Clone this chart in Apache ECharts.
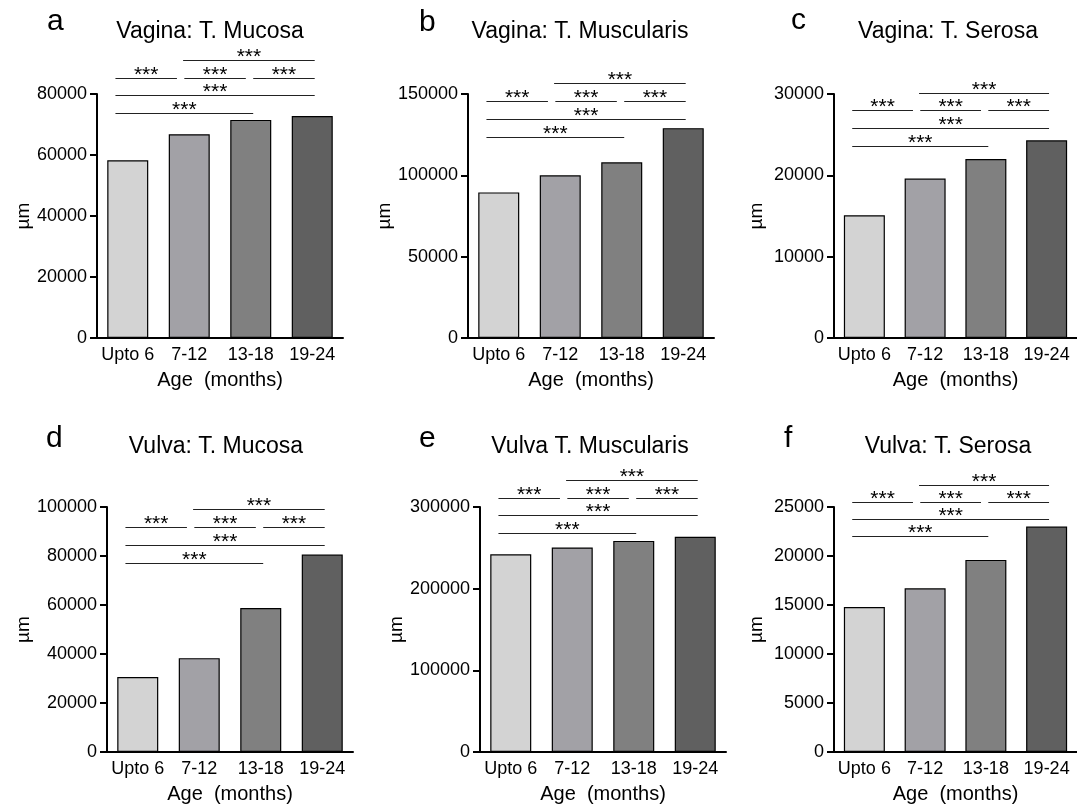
<!DOCTYPE html>
<html>
<head>
<meta charset="utf-8">
<script src="https://cdn.jsdelivr.net/npm/echarts@6/dist/echarts.min.js"></script>
<style>
html,body{margin:0;padding:0;background:#fff}
#chart{width:1077px;height:810px}
</style>
</head>
<body>
<div id="chart"></div>
<script>
// ---------- data ----------
const categories = ['Upto 6', '7-12', '13-18', '19-24'];
const panelLetters = ['a', 'b', 'c', 'd', 'e', 'f'];
const panelTitles = ['Vagina: T. Mucosa', 'Vagina: T. Muscularis', 'Vagina: T. Serosa',
                     'Vulva: T. Mucosa', 'Vulva T. Muscularis', 'Vulva: T. Serosa'];
const vaginaMucosa     = [58300, 66800, 71500, 72800];
const vaginaMuscularis = [89500, 100000, 108000, 129000];
const vaginaSerosa     = [15100, 19600, 22000, 24300];
const vulvaMucosa      = [30600, 38300, 58800, 80600];
const vulvaMuscularis  = [242000, 250500, 258500, 263500];
const vulvaSerosa      = [14800, 16700, 19600, 23000];
const yMax      = [80000, 150000, 30000, 100000, 300000, 25000];
const yInterval = [20000, 50000, 10000, 20000, 100000, 5000];
const yAxisTitle = 'µm';
const xAxisTitle = 'Age  (months)';
// pairwise comparisons (category index pairs) and the stacking row of each bracket
const comparisons   = [[0, 2], [0, 3], [0, 1], [1, 2], [2, 3], [1, 3]];
const comparisonRow = [0, 1, 2, 2, 2, 3];
const significance  = ['***', '***', '***', '***', '***', '***'];
// value level of the lowest bracket row and the value spacing between rows, per panel
const bracketBase = [73700, 123800, 23600, 77300, 268000, 22000];
const bracketStep = [5830, 11030, 2190, 7300, 21800, 1765];

const panelValues = [vaginaMucosa, vaginaMuscularis, vaginaSerosa, vulvaMucosa, vulvaMuscularis, vulvaSerosa];

// ---------- style / layout ----------
const FONT = '"Liberation Sans", Arial, Helvetica, sans-serif';
const barColors = ['#d3d3d3', '#a2a1a6', '#808080', '#606060'];
const grids = [
  {left: 97,  top: 94,  width: 246, height: 244},
  {left: 468, top: 94,  width: 246, height: 244},
  {left: 834, top: 94,  width: 246, height: 244},
  {left: 107, top: 507, width: 246, height: 245},
  {left: 480, top: 507, width: 246, height: 245},
  {left: 834, top: 507, width: 246, height: 245}
];
const yNameGap = [64, 70, 68, 74, 74, 68];
const titlePos  = [[210, 32], [580, 32], [948, 32], [216, 447], [590, 447], [948, 447]];
const letterPos = [[47, 22], [419, 23], [791, 21], [46, 439], [419, 439], [784, 439]];

// bracket horizontal extents in category units
function bracketSpans() {
  return comparisons.map((c, j) => {
    const row = comparisonRow[j];
    const mates = comparisons.map((d, m) => m).filter(m => comparisonRow[m] === row);
    if (mates.length === 1) return [c[0] - (c[0] === 0 ? 0.2 : 0.1), c[1] + 0.04];
    const L = Math.min(...mates.map(m => comparisons[m][0])) - 0.2;
    const R = Math.max(...mates.map(m => comparisons[m][1])) + 0.04;
    const gap = 0.12, n = mates.length, w = (R - L - gap * (n - 1)) / n, k = mates.indexOf(j);
    return [L + k * (w + gap), L + k * (w + gap) + w];
  });
}
const spans = bracketSpans();

const option = {
  backgroundColor: '#fff',
  animation: false,
  grid: grids.map(g => Object.assign({containLabel: false}, g)),
  xAxis: grids.map((g, k) => ({
    type: 'category', gridIndex: k, data: categories,
    axisLine: {lineStyle: {color: '#000', width: 2}},
    axisTick: {alignWithLabel: true, length: 7, lineStyle: {color: '#000', width: 2}},
    axisLabel: {color: '#000', fontSize: 18, fontFamily: FONT, margin: 8, interval: 0},
    name: xAxisTitle, nameLocation: 'middle', nameGap: 32,
    nameTextStyle: {color: '#000', fontSize: 20, fontFamily: FONT},
    splitLine: {show: false}
  })),
  yAxis: grids.map((g, k) => ({
    type: 'value', gridIndex: k, min: 0, max: yMax[k], interval: yInterval[k],
    axisLine: {show: true, lineStyle: {color: '#000', width: 2}},
    axisTick: {show: true, length: 7, lineStyle: {color: '#000', width: 2}},
    axisLabel: {color: '#000', fontSize: 18, fontFamily: FONT, margin: 10, formatter: v => String(v)},
    splitLine: {show: false},
    name: yAxisTitle, nameLocation: 'middle', nameGap: yNameGap[k], nameRotate: 90,
    nameTextStyle: {color: '#000', fontSize: 19, fontFamily: FONT}
  })),
  series: [],
  graphic: []
};

panelValues.forEach((vals, k) => {
  option.series.push({
    type: 'bar', xAxisIndex: k, yAxisIndex: k, barWidth: 41,
    data: vals.map((v, i) => ({value: v, itemStyle: {color: barColors[i]}})),
    itemStyle: {borderColor: '#000', borderWidth: 1.2},
    silent: true
  });
  option.series.push({
    type: 'custom', xAxisIndex: k, yAxisIndex: k, clip: false, silent: true, z: 5,
    data: comparisons.map((c, j) => [c[0], c[1], bracketBase[k] + comparisonRow[j] * bracketStep[k], j]),
    encode: {x: 0, y: 2},
    renderItem: function (params, api) {
      const yv = api.value(2), j = api.value(3);
      const base = api.coord([0, yv]);
      const band = api.size([1, 0])[0];
      const x1 = base[0] + spans[j][0] * band;
      const x2 = base[0] + spans[j][1] * band;
      const y = Math.round(base[1]) + 0.5;
      return {type: 'group', children: [
        {type: 'line', shape: {x1: x1, y1: y, x2: x2, y2: y}, style: {stroke: '#222', lineWidth: 1}},
        {type: 'text', x: (x1 + x2) / 2, y: y - 3,
         style: {text: significance[j], fontSize: 21, fontFamily: FONT, fill: '#000', align: 'center', verticalAlign: 'middle'}}
      ]};
    }
  });
  option.graphic.push({
    type: 'text', x: titlePos[k][0], y: titlePos[k][1], silent: true,
    style: {text: panelTitles[k], fontSize: 23, fontFamily: FONT, fill: '#000', align: 'center', verticalAlign: 'middle'}
  });
  option.graphic.push({
    type: 'text', x: letterPos[k][0], y: letterPos[k][1], silent: true,
    style: {text: panelLetters[k], fontSize: 30, fontFamily: FONT, fill: '#000', align: 'left', verticalAlign: 'middle'}
  });
});

const chart = echarts.init(document.getElementById('chart'), null, {renderer: 'canvas'});
chart.setOption(option);
</script>
</body>
</html>
